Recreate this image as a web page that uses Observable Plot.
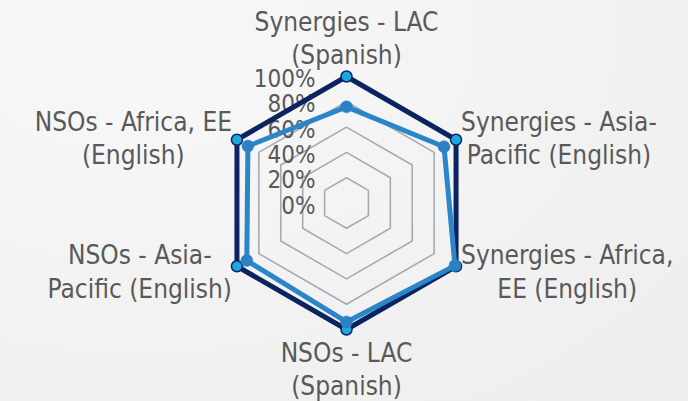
<!DOCTYPE html>
<html>
<head>
<meta charset="utf-8">
<script src="https://cdn.jsdelivr.net/npm/d3@7"></script>
<script src="https://cdn.jsdelivr.net/npm/@observablehq/plot@0.6"></script>
<style>
  html, body { margin: 0; padding: 0; }
  body {
    width: 688px; height: 401px; overflow: hidden;
    background: radial-gradient(ellipse at 20% 10%, #f8f8f8 0%, #f2f2f2 55%, #eeeeee 100%);
  }
  #chart svg { display: block; background: transparent; }
</style>
</head>
<body>
<div id="chart"></div>
<script>
// ---- data ----
const categories = [
  "Synergies - LAC\n(Spanish)",
  "Synergies - Asia-\nPacific (English)",
  "Synergies - Africa,\nEE (English)",
  "NSOs - LAC\n(Spanish)",
  "NSOs - Asia-\nPacific (English)",
  "NSOs - Africa, EE\n(English)"
];
const seriesNames = ["Series 1", "Series 2"];
const series1 = [100, 100, 100, 100, 100, 100];
const series2 = [76, 89, 99, 94, 91, 90];
const tickValues = [0, 20, 40, 60, 80, 100];
const tickLabels = ["0%", "20%", "40%", "60%", "80%", "100%"];

// ---- geometry helpers ----
const W = 688, H = 401;
const N = categories.length;
const cx = 346, cy = 202.5, R = 126.5;   // centre & 100% radius in pixels (layout)
const ang = i => i * 2 * Math.PI / N;
const px = (v, i) => (v / 100) * Math.sin(ang(i));
const py = (v, i) => (v / 100) * Math.cos(ang(i));

const FONT = "'DejaVu Sans Condensed', 'Liberation Sans Narrow', 'Liberation Sans', sans-serif";
const FS = 26;
const TFS = 24;
const textColor = "#595959";

const rows = [];
[series1, series2].forEach((s, k) => s.forEach((v, i) => rows.push({series: seriesNames[k], i, v})));
const rows1 = rows.filter(d => d.series === seriesNames[0]);
const rows2 = rows.filter(d => d.series === seriesNames[1]);

const rings = [];
tickValues.filter(t => t > 0).forEach(t => categories.forEach((c, i) => rings.push({t, i})));

// measure label widths to place centred blocks beside vertices
const ctx = document.createElement("canvas").getContext("2d");
ctx.font = `${FS}px ${FONT}`;
const blockW = s => Math.max(...s.split("\n").map(l => ctx.measureText(l).width));
const labels = categories.map((c, i) => {
  const sx = Math.sin(ang(i)), cyy = Math.cos(ang(i));
  let dx = 0, dy = 0;
  if (Math.abs(sx) < 1e-6) { dy = cyy > 0 ? -40 : 38; }
  else { dx = Math.sign(sx) * (blockW(c) / 2 + 5); dy = cyy > 0 ? -3 : 4; }
  return {c, i, ox: dx / R, oy: -dy / R};
});

const xDomain = [-cx / R, (W - cx) / R];
const yDomain = [-(H - cy) / R, cy / R];

const chart = Plot.plot({
  width: W, height: H,
  margin: 0,
  x: {domain: xDomain, range: [0, W], axis: null},
  y: {domain: yDomain, range: [H, 0], axis: null},
  style: {fontFamily: FONT, background: "transparent", overflow: "visible"},
  marks: [
    Plot.line(rings, {
      x: d => px(d.t, d.i), y: d => py(d.t, d.i), z: "t",
      curve: "linear-closed", stroke: "#a4acb3", strokeWidth: 1.6
    }),
    Plot.text(tickValues, {
      x: () => 0, y: d => d / 100, text: (d, j) => tickLabels[j],
      textAnchor: "end", dx: -31, dy: 3, fontSize: TFS, fill: textColor
    }),
    Plot.line(rows1, {
      x: d => px(d.v, d.i), y: d => py(d.v, d.i),
      curve: "linear-closed", stroke: "#0b2461", strokeWidth: 5, strokeLinejoin: "round"
    }),
    Plot.dot(rows1, {
      x: d => px(d.v, d.i), y: d => py(d.v, d.i),
      r: 5.5, fill: "#1ba9e2", stroke: "#0b2461", strokeWidth: 1.5
    }),
    Plot.line(rows2, {
      x: d => px(d.v, d.i), y: d => py(d.v, d.i),
      curve: "linear-closed", stroke: "#2b86c9", strokeWidth: 5, strokeLinejoin: "round"
    }),
    Plot.dot(rows2, {
      x: d => px(d.v, d.i), y: d => py(d.v, d.i),
      r: 6, fill: "#2a82c5", stroke: "#2a82c5", strokeWidth: 0.5
    }),
    Plot.text(labels, {
      x: d => px(100, d.i) + d.ox, y: d => py(100, d.i) + d.oy, text: "c",
      textAnchor: "middle", lineAnchor: "middle", lineHeight: 1.28,
      fontSize: FS, fill: textColor
    })
  ]
});
document.getElementById("chart").appendChild(chart);
</script>
</body>
</html>
